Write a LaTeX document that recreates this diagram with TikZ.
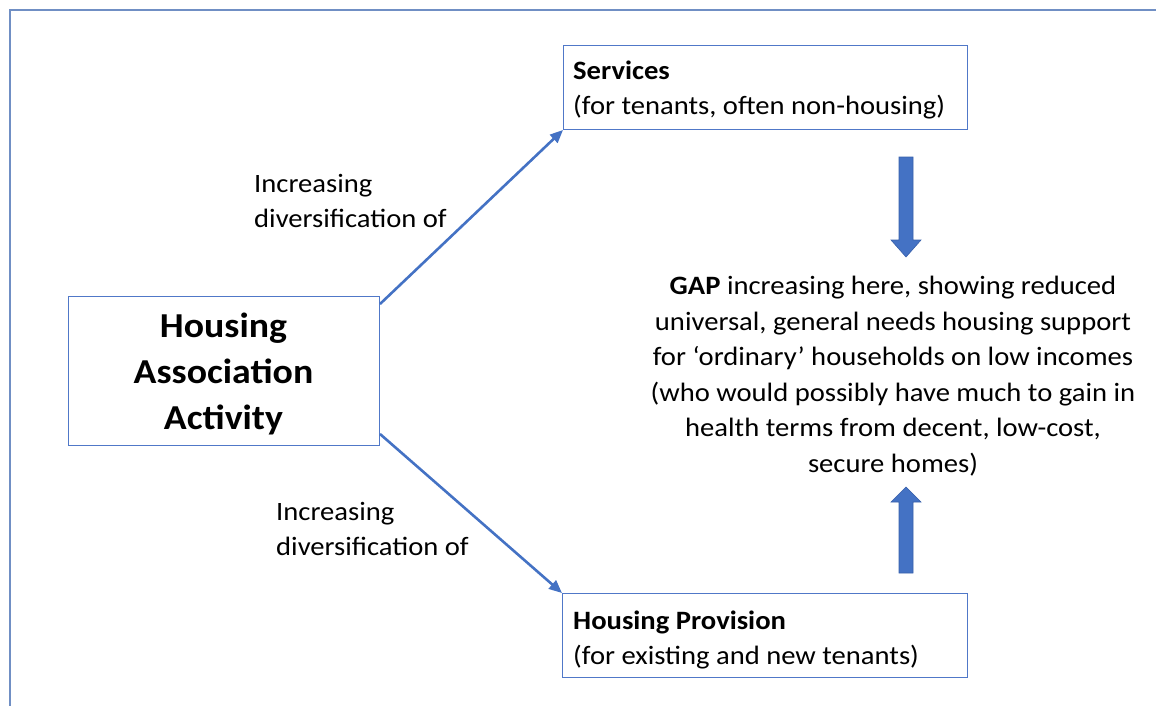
\documentclass[tikz,border=0pt]{standalone}
\usepackage{fontspec}
\setmainfont[FakeStretch=1.08]{Carlito}
\usetikzlibrary{arrows.meta,calc}
\definecolor{frameblue}{RGB}{112,143,196}
\definecolor{linkblue}{RGB}{68,114,196}
\definecolor{boxblue}{RGB}{80,120,200}
\definecolor{blockedge}{RGB}{55,95,170}
\tikzset{
  box/.style={draw=boxblue, line width=1pt, fill=white, inner sep=0pt},
  link/.style={draw=linkblue, line width=2.6pt, -{Triangle[length=13pt,width=11pt]}},
  lbl/.style={align=left, font=\fontsize{26.5}{35}\selectfont, inner sep=0pt},
  blockarrow/.style={fill=linkblue, draw=blockedge, line width=0.6pt}
}
\begin{document}
\begin{tikzpicture}[x=1pt,y=-1pt]
\useasboundingbox (0,0) rectangle (1156,706);
% frame
\draw[frameblue, line width=2pt] (10,706) -- (10,10) -- (1156,10);
% boxes
\node[box, minimum width=404pt, minimum height=84pt, anchor=north west] (serv) at (563,45) {};
\node[lbl, anchor=base west] (servtxt) at (573,115) {\textbf{Services}\\(for tenants, often non-housing)};
\node[box, minimum width=311pt, minimum height=149pt, anchor=north west] (haa) at (68,296) {};
\node[align=center, font=\fontsize{35}{46}\selectfont\bfseries, inner sep=0pt] (haatxt) at (223.5,374) {Housing\\Association\\Activity};
\node[box, minimum width=405pt, minimum height=84pt, anchor=north west] (prov) at (562,593) {};
\node[lbl, anchor=base west] (provtxt) at (573,664) {\textbf{Housing Provision}\\(for existing and new tenants)};
% labels on connectors
\node[lbl, anchor=base west] (l1) at (254,227) {Increasing\\diversification of};
\node[lbl, anchor=base west] (l2) at (276,555) {Increasing\\diversification of};
% gap text
\node[align=center, font=\fontsize{26.5}{35.5}\selectfont, inner sep=0pt] (gap) at (893,376) {\textbf{GAP} increasing here, showing reduced\\universal, general needs housing support\\for ‘ordinary’ households on low incomes\\(who would possibly have much to gain in\\health terms from decent, low-cost,\\secure homes)};
% connectors
\draw[link] ($(haa.north east)+(0,8)$) -- (serv.south west);
\draw[link] ($(haa.south east)+(0,-12)$) -- (prov.north west);
% block arrows
\draw[blockarrow] (899,157) -- (913,157) -- (913,240) -- (921,240) -- (906,257) -- (891,240) -- (899,240) -- cycle;
\draw[blockarrow] (899,573) -- (913,573) -- (913,502) -- (921,502) -- (906,487) -- (891,502) -- (899,502) -- cycle;
\end{tikzpicture}
\end{document}
